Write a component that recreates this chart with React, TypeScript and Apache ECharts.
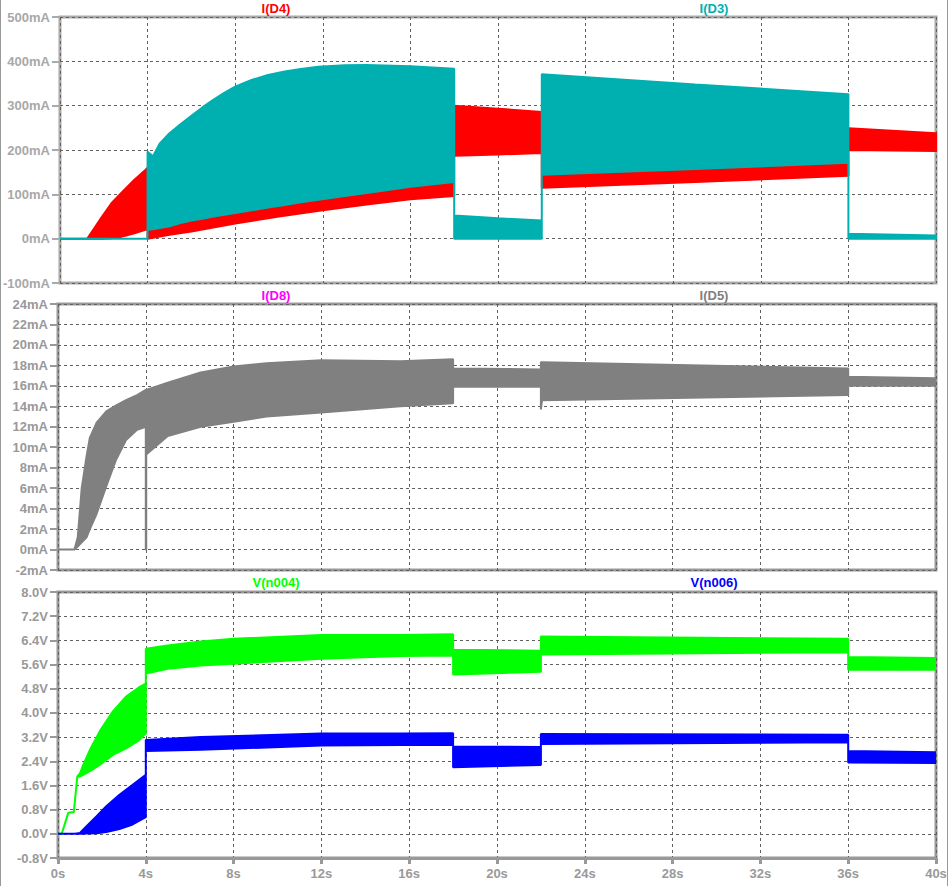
import React, { useEffect, useRef } from "react";
import * as echarts from "echarts";

// ---- Data: band envelopes: [time s, lower, upper] ----
// Panel 1 (mA)
const iD4: number[][] = [
  [0, 0, 0], [1.25, 0, 0], [1.45, 0, 15], [1.9, 0, 48], [2.35, 1, 80], [2.8, 4, 103],
  [3.4, 12, 133], [3.9, 20, 155], [4.0, 22, 160], [4.0, 0, 20], [5, 9, 28], [6, 16, 41],
  [8, 34, 58], [10, 50, 74], [12, 64, 89], [14, 77, 103], [16, 89, 117], [18, 96, 128],
  [18, 187, 300], [20, 190, 293], [22, 193, 286], [22, 115, 144], [29, 128, 157],
  [36, 142, 171], [36, 200, 249], [40, 198, 238],
];
const iD3: number[][] = [
  [0, 0, 0], [4, 0, 0], [4, 20, 196], [4.25, 21, 186], [4.55, 24, 214], [5, 28, 238],
  [5.5, 35, 258], [6, 41, 277], [6.5, 45, 296], [7, 50, 313], [7.5, 54, 329], [8, 58, 343],
  [8.75, 64, 358], [9.5, 70, 369], [10.26, 76, 377], [11, 82, 383], [11.8, 88, 388],
  [13, 96, 391], [14, 103, 392], [16, 117, 389], [18, 128, 383], [18, 0, 52], [20, 0, 46],
  [22, 0, 41], [22, 144, 371], [29, 157, 348], [36, 171, 326], [36, 0, 11], [40, 0, 7],
];
// Panel 2 (mA)
const iD5: number[][] = [
  [0, 0, 0], [0.75, 0, 0], [0.9, 0.3, 1.2], [1.08, 0.7, 6], [1.3, 1.2, 9.1], [1.45, 2, 10.9],
  [1.76, 3.5, 12.4], [2.2, 6.2, 13.5], [2.65, 8.8, 14.1], [3.1, 10.7, 14.6], [3.6, 11.7, 15.1],
  [4.0, 12.0, 15.6], [4.0, 0, 15.6], [4.02, 0, 15.6], [4.02, 9.3, 15.6], [5, 11.1, 16.3],
  [6.5, 12.0, 17.3], [8, 12.5, 17.9], [9.5, 13.0, 18.2], [12, 13.4, 18.5], [15.6, 14.0, 18.4],
  [18, 14.3, 18.6], [18, 15.9, 17.7], [22, 15.9, 17.6], [22, 13.7, 18.3], [22.05, 14.6, 18.3],
  [36, 15.1, 17.7], [36, 16.0, 16.9], [40, 16.0, 16.75],
];
// Panel 3 (V)
const vN004: number[][] = [
  [0, 0, 0], [0.17, 0, 0], [0.47, 0.7, 0.7], [0.72, 0.72, 0.72], [0.88, 1.9, 1.9],
  [1.0, 1.9, 2.0], [1.15, 1.95, 2.28], [1.45, 2.07, 2.77], [1.9, 2.28, 3.39], [2.5, 2.61, 4.05],
  [3.1, 2.83, 4.54], [3.7, 3.1, 4.85], [4.0, 3.32, 4.97], [4.0, 5.3, 6.12], [5, 5.46, 6.23],
  [6.5, 5.57, 6.36], [8, 5.63, 6.45], [12, 5.79, 6.58], [15.6, 5.88, 6.58], [18, 5.9, 6.6],
  [18, 5.27, 6.09], [22, 5.36, 6.06], [22, 5.93, 6.53], [36, 6.01, 6.45], [36, 5.43, 5.85],
  [40, 5.43, 5.82],
];
const vN006: number[][] = [
  [0, 0, 0], [0.77, 0, 0], [1.0, 0, 0.03], [1.3, 0.01, 0.25], [1.76, 0.02, 0.58],
  [2.2, 0.06, 0.91], [2.8, 0.16, 1.29], [3.4, 0.31, 1.62], [4.0, 0.55, 1.95], [4.0, 2.74, 3.1],
  [6.5, 2.78, 3.2], [12, 2.92, 3.32], [15.6, 2.94, 3.32], [18, 2.95, 3.33], [18, 2.2, 2.89],
  [22, 2.28, 2.87], [22, 2.97, 3.3], [36, 3.03, 3.28], [36, 2.36, 2.74], [40, 2.34, 2.7],
];

// Axis ranges / ticks: [min, max, interval]
const timeRange = [0, 40, 4];
const mAPanel1 = [-100, 500, 100];
const mAPanel2 = [-2, 24, 2];
const voltPanel3 = [-0.8, 8, 0.8];

const titles = [
  { text: "I(D4)", color: "#ff0000", panel: 0, col: 0 },
  { text: "I(D3)", color: "#00b0b0", panel: 0, col: 1 },
  { text: "I(D8)", color: "#ff00ff", panel: 1, col: 0 },
  { text: "I(D5)", color: "#808080", panel: 1, col: 1 },
  { text: "V(n004)", color: "#00ff00", panel: 2, col: 0 },
  { text: "V(n006)", color: "#0000ff", panel: 2, col: 1 },
];

const FONT = '"Liberation Sans", Arial, sans-serif';

function band(data: number[][], color: string, idx: number, name: string) {
  return {
    type: "custom",
    name,
    xAxisIndex: idx,
    yAxisIndex: idx,
    clip: true,
    data: [[0, 0]],
    renderItem: (params: any, api: any) => {
      const upper = data.map((p) => api.coord([p[0], p[2]]));
      const lower = data.slice().reverse().map((p) => api.coord([p[0], p[1]]));
      return {
        type: "polygon",
        shape: { points: upper.concat(lower) },
        style: { fill: color, stroke: color, lineWidth: 2, lineJoin: "bevel" },
      };
    },
  };
}

export default function App() {
  const ref = useRef<HTMLDivElement>(null);
  useEffect(() => {
    if (!ref.current) return;
    const chart = echarts.init(ref.current, undefined, { renderer: "svg" });
    const tops = [17, 304, 592];
    const frameColors = ["#aaaaaa", "#999999", "#999999"];
    const ranges = [mAPanel1, mAPanel2, voltPanel3];
    const fmts = [
      (v: number) => `${Math.round(v)}mA`,
      (v: number) => `${Math.round(v)}mA`,
      (v: number) => `${v.toFixed(1)}V`,
    ];
    const grids = tops.map((t, i) => ({
      left: 58,
      width: 878,
      top: t,
      height: 266,
      show: true,
      borderColor: frameColors[i],
      borderWidth: 3,
      backgroundColor: "#ffffff",
    }));
    const xAxes = tops.map((_, i) => ({
      type: "value",
      gridIndex: i,
      position: "bottom",
      min: timeRange[0],
      max: timeRange[1],
      interval: timeRange[2],
      axisLine: {
        show: i === 2,
        onZero: false,
        lineStyle: { color: frameColors[i], width: 3 },
      },
      axisTick: {
        show: i === 2,
        length: 6,
        lineStyle: { color: "#999999", width: 3 },
      },
      axisLabel: {
        show: i === 2,
        formatter: (v: number) => `${v}s`,
        color: "#999999",
        fontFamily: FONT,
        fontWeight: "bold",
        fontSize: 13,
        margin: 9,
      },
      splitLine: {
        show: true,
        lineStyle: { color: "#606060", type: [3, 3], width: 1 },
      },
    }));
    const yAxes = tops.map((_, i) => ({
      type: "value",
      gridIndex: i,
      min: ranges[i][0],
      max: ranges[i][1],
      interval: ranges[i][2],
      axisLine: { show: false, onZero: false },
      axisTick: {
        show: true,
        length: 8,
        lineStyle: { color: frameColors[i], width: 2 },
      },
      axisLabel: {
        formatter: fmts[i],
        color: i === 0 ? "#a8a8a8" : "#999999",
        fontFamily: FONT,
        fontWeight: "bold",
        fontSize: 13,
        margin: 10,
        showMinLabel: true,
        showMaxLabel: true,
      },
      splitLine: {
        show: true,
        lineStyle: { color: "#606060", type: [3, 3], width: 1 },
      },
    }));
    const titleY = [8, 295, 582];
    const titleX = [276, 714];
    const graphic: any[] = titles.map((t) => ({
      type: "text",
      x: titleX[t.col],
      y: titleY[t.panel],
      style: {
        text: t.text,
        fill: t.color,
        font: `bold 13px ${FONT}`,
        align: "center",
        verticalAlign: "middle",
        textAlign: "center",
        textVerticalAlign: "middle",
      },
    }));
    graphic.push(
      { type: "line", shape: { x1: 0.5, y1: 0, x2: 0.5, y2: 886 }, style: { stroke: "#999999", lineWidth: 1 } },
      { type: "line", shape: { x1: 947.5, y1: 0, x2: 947.5, y2: 886 }, style: { stroke: "#999999", lineWidth: 1 } }
    );
    chart.setOption({
      animation: false,
      backgroundColor: "#ffffff",
      grid: grids,
      xAxis: xAxes,
      yAxis: yAxes,
      graphic,
      series: [
        band(iD4, "#ff0000", 0, "I(D4)"),
        band(iD3, "#00b0b0", 0, "I(D3)"),
        band(iD5, "#808080", 1, "I(D5)"),
        band(vN004, "#00ff00", 2, "V(n004)"),
        band(vN006, "#0000ff", 2, "V(n006)"),
      ],
    });
    return () => chart.dispose();
  }, []);
  return (
    <div
      ref={ref}
      style={{ position: "absolute", left: 0, top: 0, width: 950, height: 886 }}
    />
  );
}
